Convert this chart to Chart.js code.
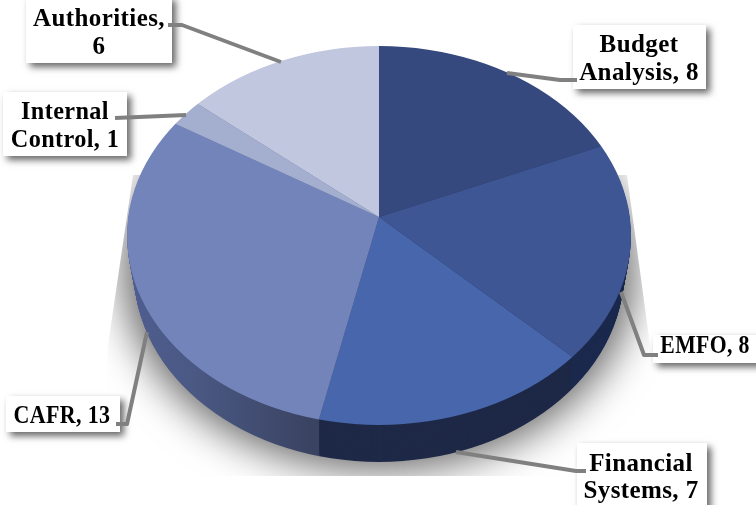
<!DOCTYPE html>
<html>
<head>
<meta charset="utf-8">
<style>
html, body { margin: 0; padding: 0; background: #fff; overflow: hidden; }
#wrap { width: 756px; height: 505px; position: relative; }
</style>
<script src="https://cdn.jsdelivr.net/npm/chart.js@4/dist/chart.umd.min.js"></script>
</head>
<body>
<div id="wrap"><canvas id="pie"></canvas></div>
<script>
const categories = ['Budget Analysis', 'EMFO', 'Financial Systems', 'CAFR', 'Internal Control', 'Authorities'];
const values = [8, 8, 7, 13, 1, 6];
const faceColors = ['#35497f', '#3e5693', '#4866ab', '#7384bb', '#a4aecf', '#c1c7df'];
const sideColors = ['#1f2c50', '#1c2a4e', '#1e2947', null, '#4a5a8c', '#4a5a8c'];

// Tilted disc geometry: top face ellipse, smaller lower rim ellipse, apex where wedges meet
const topRim = { cx: 379, cy: 235.5, rx: 252, ry: 189.5 };
const lowRim = { cx: 379, cy: 272, rx: 245, ry: 190 };
const disc = { apexX: 379, apexY: 217, depth: 37, squash: 0.75, grow: 1.2 };

// Callout boxes, one per category, with leader line vertices
const callouts = [
  { box: [573, 25, 133, 64], center: 639, baselines: [52, 80], wrap: true, xScale: 1, line: [[507, 73], [560, 80], [577, 80]] },
  { box: [653, 335, 110, 28], center: 705, baselines: [353], wrap: false, xScale: 0.87, line: [[621, 292], [644, 355], [658, 355]] },
  { box: [577, 443, 130, 70], center: 641, baselines: [471, 498], wrap: true, xScale: 1, line: [[456, 452], [576, 471], [586, 471]] },
  { box: [6, 396, 114, 36], center: 62, baselines: [423], wrap: false, xScale: 0.88, line: [[147, 332], [127, 424], [116, 424]] },
  { box: [3, 92, 124, 64], center: 65, baselines: [119, 147], wrap: true, xScale: 0.97, line: [[115, 118], [186, 115]] },
  { box: [26, -4, 146, 67], center: 99, baselines: [26, 54], wrap: true, xScale: 1, line: [[168, 25], [182, 25], [281, 62]] }
];

// Outline of the disc at fraction t of the way from the top face to the lower rim
function ellipseAt(ctx, t) {
  ctx.beginPath();
  ctx.ellipse(
    topRim.cx + (lowRim.cx - topRim.cx) * t,
    topRim.cy + (lowRim.cy - topRim.cy) * t,
    topRim.rx + (lowRim.rx - topRim.rx) * t,
    topRim.ry + (lowRim.ry - topRim.ry) * t,
    0, 0, Math.PI * 2
  );
}

// Places the library's circular pie onto the tilted disc, with the apex shifted back
function applyTilt(ctx, chart, dy) {
  const arc = chart.getDatasetMeta(0).data[0];
  ctx.translate(disc.apexX, disc.apexY + dy);
  ctx.scale(disc.grow, disc.grow * disc.squash);
  ctx.translate(-arc.x, -arc.y);
}

function drawArcWith(ctx, arc, fill) {
  const proxy = Object.create(arc);
  proxy.options = Object.assign({}, arc.options, { backgroundColor: fill });
  proxy.draw(ctx);
}

const tiltedPie = {
  id: 'tiltedPie',
  beforeDatasetsDraw(chart) {
    const ctx = chart.ctx;
    const arcs = chart.getDatasetMeta(0).data;

    // Soft ground shadow, cut off at its frame; the casting shape sits off canvas
    const away = 2000;
    ctx.save();
    ctx.beginPath();
    ctx.moveTo(133, 175); ctx.lineTo(108, 345); ctx.lineTo(100, 476);
    ctx.lineTo(670, 476); ctx.lineTo(650, 345); ctx.lineTo(627, 175);
    ctx.closePath();
    ctx.clip();
    ctx.shadowColor = 'rgba(0,0,0,0.6)';
    ctx.shadowBlur = 40;
    ctx.shadowOffsetX = away;
    ctx.fillStyle = '#000';
    ctx.beginPath();
    ctx.ellipse(379 - away, 270, 256, 200, 0, 0, Math.PI * 2);
    ctx.fill();
    ctx.restore();

    // Rim colour for the largest slice fades from left to right
    const rimFade = ctx.createLinearGradient(130, 0, 320, 0);
    rimFade.addColorStop(0, '#52629a');
    rimFade.addColorStop(0.5, '#4a5883');
    rimFade.addColorStop(1, '#3a4362');

    // Rim: stacked copies of each wedge from the bottom up
    for (let dy = disc.depth; dy >= 1; dy--) {
      ctx.save();
      ellipseAt(ctx, dy / disc.depth);
      ctx.clip();
      applyTilt(ctx, chart, dy);
      arcs.forEach((arc, i) => {
        const fill = sideColors[i] || rimFade;
        ctx.save();
        drawArcWith(ctx, arc, fill);
        ctx.restore();
      });
      ctx.restore();
    }

    // Top face
    ctx.save();
    ellipseAt(ctx, 0);
    ctx.clip();
    applyTilt(ctx, chart, 0);
    arcs.forEach(arc => {
      ctx.save();
      arc.draw(ctx);
      ctx.restore();
    });
    ctx.restore();
    return false;
  },
  afterDraw(chart) {
    const ctx = chart.ctx;
    categories.forEach((name, i) => {
      const c = callouts[i];
      // White box with drop shadow
      ctx.save();
      ctx.shadowColor = 'rgba(0,0,0,0.6)';
      ctx.shadowBlur = 7;
      ctx.shadowOffsetX = 4;
      ctx.shadowOffsetY = 4;
      ctx.fillStyle = '#fff';
      ctx.fillRect(c.box[0], c.box[1], c.box[2], c.box[3]);
      ctx.restore();
    });
    categories.forEach((name, i) => {
      const c = callouts[i];
      // Leader line
      ctx.save();
      ctx.strokeStyle = '#808080';
      ctx.lineWidth = 4;
      ctx.lineJoin = 'round';
      ctx.beginPath();
      c.line.forEach((p, k) => k ? ctx.lineTo(p[0], p[1]) : ctx.moveTo(p[0], p[1]));
      ctx.stroke();
      ctx.restore();

      // Label text, narrowed a little where the capitals run wide
      const text = name + ', ' + values[i];
      const cut = text.indexOf(' ');
      const lines = c.wrap ? [text.slice(0, cut), text.slice(cut + 1)] : [text];
      ctx.save();
      ctx.font = 'bold 25px "Liberation Serif"';
      ctx.letterSpacing = '0.4px';
      ctx.fillStyle = '#000';
      ctx.textAlign = 'center';
      ctx.textBaseline = 'alphabetic';
      ctx.translate(c.center, 0);
      ctx.scale(c.xScale, 1);
      lines.forEach((t, k) => ctx.fillText(t, 0, c.baselines[k]));
      ctx.restore();
    });
  }
};

new Chart(document.getElementById('pie'), {
  type: 'pie',
  data: {
    labels: categories,
    datasets: [{ data: values, backgroundColor: faceColors, borderWidth: 0 }]
  },
  options: {
    responsive: true,
    maintainAspectRatio: false,
    animation: false,
    layout: { padding: 0 },
    plugins: { legend: { display: false }, tooltip: { enabled: false }, title: { display: false } }
  },
  plugins: [tiltedPie]
});
</script>
</body>
</html>
